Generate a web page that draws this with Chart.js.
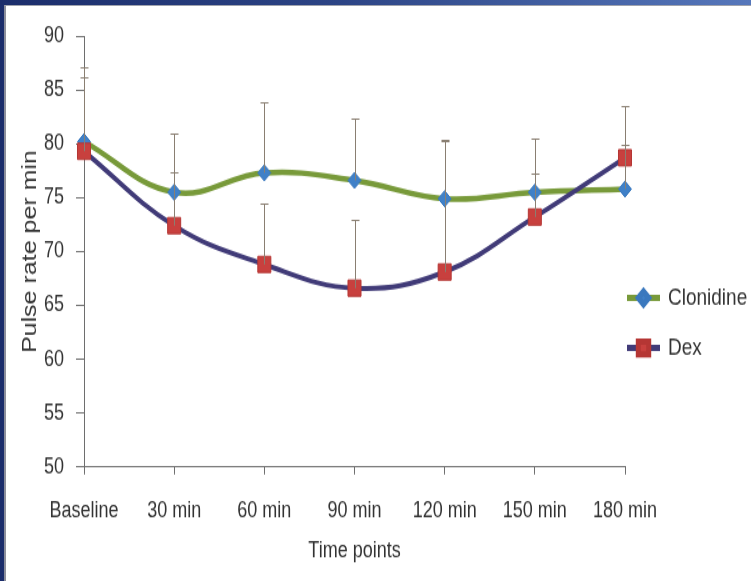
<!DOCTYPE html>
<html>
<head>
<meta charset="utf-8">
<script src="https://cdn.jsdelivr.net/npm/chart.js@4.4.1/dist/chart.umd.min.js"></script>
<style>
  html, body { margin: 0; padding: 0; }
  body {
    width: 751px; height: 581px; overflow: hidden; position: relative;
    background: linear-gradient(to right, #1b2d6b 0%, #2c4485 45%, #5677bb 100%);
  }
  #panel {
    position: absolute; left: 4px; top: 5px; width: 747px; height: 576px;
    background: #fff; box-sizing: border-box;
    border-left: 2px solid #8c8f9c; border-top: 1px solid #a0a3ad;
  }
  /* the source picture is stretched vertically, so the canvas is too */
  #pulseChart { position: absolute; left: 0; top: 0; transform: scaleY(1.25); transform-origin: 0 0; }
</style>
</head>
<body>
<div id="panel">
  <canvas id="pulseChart" width="745" height="460"></canvas>
</div>
<script>
// data
var timeLabels = ['Baseline', '30 min', '60 min', '90 min', '120 min', '150 min', '180 min'];
var clonidineMean = [80.2, 75.5, 77.3, 76.6, 74.9, 75.5, 75.8];
var clonidineUpper = [87.1, 80.9, 83.8, 82.3, 80.3, 80.5, 79.9];
var dexMean = [79.3, 72.4, 68.8, 66.6, 68.1, 73.2, 78.7];
var dexUpper = [86.2, 77.3, 74.4, 72.9, 80.4, 77.2, 83.5];
var yMin = 50, yMax = 90, yStep = 5;

var FONT = '"Liberation Sans", Arial, sans-serif';
var TEXT = '#333333';
var AXIS = '#6e6e6e';

// whiskers (mean to mean + SD) drawn on the y scale
var errorBars = {
    id: 'errorBars',
    afterDatasetsDraw: function (chart) {
        var ctx = chart.ctx;
        var y = chart.scales.y;
        ctx.save();
        ctx.strokeStyle = '#8a7f72';
        ctx.lineWidth = 1;
        chart.data.datasets.forEach(function (ds, i) {
            var meta = chart.getDatasetMeta(i);
            meta.data.forEach(function (pt, j) {
                var top = Math.round(y.getPixelForValue(ds.upper[j])) + 0.5;
                var x = Math.round(pt.x) + 0.5;
                ctx.beginPath();
                ctx.moveTo(x, pt.y);
                ctx.lineTo(x, top);
                ctx.moveTo(x - 4, top);
                ctx.lineTo(x + 4, top);
                ctx.stroke();
            });
        });
        ctx.restore();
    }
};

// legend on the right: line with the marker in the middle
var sideLegend = {
    id: 'sideLegend',
    afterDraw: function (chart) {
        var ctx = chart.ctx;
        var x0 = chart.chartArea.right + 2;
        var y0 = 233.6;
        ctx.save();
        chart.data.datasets.forEach(function (ds, i) {
            var cy = y0 + i * 40;
            ctx.strokeStyle = ds.borderColor;
            ctx.lineWidth = 5;
            ctx.beginPath();
            ctx.moveTo(x0, cy);
            ctx.lineTo(x0 + 33, cy);
            ctx.stroke();
            ctx.fillStyle = ds.pointBackgroundColor;
            ctx.strokeStyle = ds.pointBorderColor;
            Chart.helpers.drawPoint(ctx, {
                pointStyle: ds.pointStyle,
                radius: ds.pointRadius * 0.8,
                borderWidth: 1,
                rotation: 0
            }, x0 + 16.5, cy);
            ctx.fillStyle = TEXT;
            ctx.font = '19px ' + FONT;
            ctx.textBaseline = 'middle';
            ctx.textAlign = 'left';
            ctx.fillText(ds.label, x0 + 41, cy);
        });
        ctx.restore();
    }
};

var ctx = document.getElementById('pulseChart').getContext('2d');
var chart = new Chart(ctx, {
    type: 'line',
    data: {
        labels: timeLabels,
        datasets: [{
            label: 'Clonidine',
            data: clonidineMean,
            upper: clonidineUpper,
            order: 2,
            borderColor: '#789a3a',
            borderWidth: 4.5,
            tension: 0.4,
            fill: false,
            pointStyle: 'rectRot',
            pointRadius: 6.5,
            pointBackgroundColor: '#3f80c8',
            pointBorderColor: '#3a78be',
            pointBorderWidth: 1
        }, {
            label: 'Dex',
            data: dexMean,
            upper: dexUpper,
            order: 1,
            borderColor: '#413b78',
            borderWidth: 4,
            tension: 0.4,
            fill: false,
            pointStyle: 'rect',
            pointRadius: 9.2,
            pointBackgroundColor: '#c8403e',
            pointBorderColor: '#b53634',
            pointBorderWidth: 1
        }]
    },
    options: {
        responsive: false,
        devicePixelRatio: 1,
        animation: false,
        layout: { padding: { left: 0, top: 24, right: 126, bottom: 0 } },
        plugins: {
            legend: { display: false },
            tooltip: { enabled: false }
        },
        scales: {
            x: {
                offset: false,
                grid: { drawOnChartArea: false, drawTicks: true, tickLength: 6, color: AXIS },
                border: { display: true, color: AXIS, width: 1 },
                ticks: { font: { size: 18, family: FONT }, color: TEXT, padding: 18, maxRotation: 0, autoSkip: false },
                title: {
                    display: true,
                    text: 'Time points',
                    color: TEXT,
                    font: { size: 18, family: FONT },
                    padding: { top: 0, bottom: 13 }
                },
                afterFit: function (scale) { scale.height = 91.2; }
            },
            y: {
                min: yMin,
                max: yMax,
                grid: { drawOnChartArea: false, drawTicks: true, tickLength: 8, color: AXIS },
                border: { display: true, color: AXIS, width: 1 },
                ticks: { stepSize: yStep, font: { size: 18, family: FONT }, color: TEXT, padding: 12 },
                title: {
                    display: true,
                    text: 'Pulse rate per min',
                    color: TEXT,
                    font: { size: 20, family: FONT },
                    padding: { top: 12, bottom: 0 }
                },
                afterFit: function (scale) { scale.width = 78; }
            }
        }
    },
    plugins: [errorBars, sideLegend]
});
</script>
</body>
</html>
